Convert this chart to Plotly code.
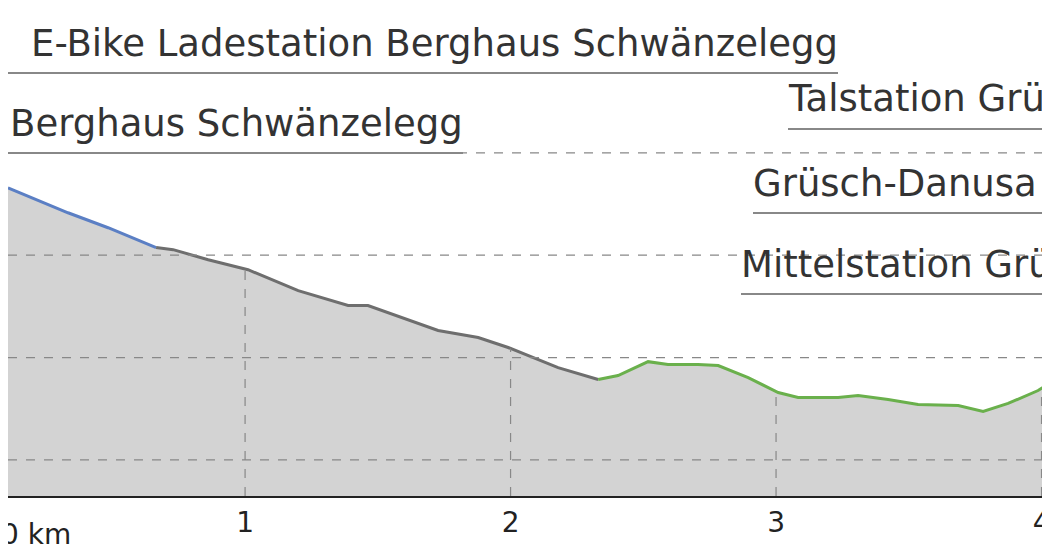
import numpy as np
import plotly.graph_objects as go

km = [0.107,0.333,0.484,0.665,0.729,0.861,1.011,1.200,1.388,1.463,1.727,1.878,1.991,2.179,2.330,
      2.405,2.518,2.593,2.706,2.782,2.895,3.008,3.083,3.234,3.309,3.422,3.535,3.686,3.780,3.874,3.987,4.062]
elev = [1332.9,1320.7,1313.4,1303.7,1302.7,1297.8,1292.9,1282.7,1275.4,1275.4,1263.2,1259.8,1254.9,1245.1,1239.3,
        1241.2,1248.0,1246.6,1246.6,1246.1,1240.2,1232.9,1230.5,1230.5,1231.5,1229.5,1227.1,1226.6,1223.7,1227.6,1233.9,1240.2]
blue_end = 3
gray_end = 14
grid_elev = [1200, 1250, 1300, 1350]
km_ticks = [1, 2, 3, 4]
YMIN, YMAX = 1182.4, 1420.7
XMIN, XMAX = 0.107, 4.062

fig = go.Figure()
fig.add_trace(go.Scatter(x=km+km[::-1], y=elev+[YMIN]*len(km), fill='toself', fillcolor='#d3d3d3',
                         mode='none', hoverinfo='skip'))
for g in grid_elev:
    fig.add_shape(type='line', xref='paper', x0=0, x1=1, y0=g, y1=g,
                  line=dict(color='#888', width=1.2, dash='dash'))
for k in km_ticks:
    fig.add_shape(type='line', x0=k, x1=k, y0=YMIN, y1=float(np.interp(k, km, elev)),
                  line=dict(color='#888', width=1.2, dash='dash'))
segs = [(0, blue_end, '#5b7fc4'), (blue_end, gray_end, '#6e6e6e'), (gray_end, len(km)-1, '#6ab04c')]
for a, b, c in segs:
    fig.add_trace(go.Scatter(x=km[a:b+1], y=elev[a:b+1], mode='lines', line=dict(color=c, width=3), hoverinfo='skip'))

labels = [
    ("E-Bike Ladestation Berghaus Schwänzelegg", 832, 62, 'right', 0, 830, 65),
    ("Berghaus Schwänzelegg", 457, 142, 'right', 0, 455, 145),
    ("Talstation Grüsch", 778, 117, 'left', 780, 1050, 121),
    ("Grüsch-Danusa", 743, 202, 'left', 745, 1050, 205),
    ("Mittelstation Grüsch", 731, 283, 'left', 733, 1050, 286),
]
H = 488
for t, x, yb, anc, l0, l1, ly in labels:
    fig.add_annotation(text=t, xref='paper', yref='paper', x=x/1050, y=(H-yb+3)/H, xanchor=anc, yanchor='bottom',
                       showarrow=False, font=dict(family='DejaVu Sans', size=37, color='#333'))
    fig.add_shape(type='line', xref='paper', yref='paper', x0=l0/1050, x1=l1/1050,
                  y0=(H-ly)/H, y1=(H-ly)/H, line=dict(color='#888', width=2))
fig.add_annotation(text="0 km", xref='paper', yref='paper', x=65/1050, y=-0.04, xanchor='right', yanchor='top',
                   showarrow=False, font=dict(family='DejaVu Sans', size=28, color='#222'))

fig.update_layout(width=1050, height=560, margin=dict(l=0, r=0, t=0, b=72, autoexpand=False), showlegend=False,
                  plot_bgcolor='white', paper_bgcolor='white')
fig.update_xaxes(range=[XMIN, XMAX], tickvals=km_ticks, ticktext=[str(k) for k in km_ticks], showgrid=False,
                 zeroline=False, showline=True, linecolor='#222', linewidth=2, ticks='',
                 tickfont=dict(family='DejaVu Sans', size=28, color='#222'))
fig.update_yaxes(range=[YMIN, YMAX], visible=False)
fig.write_html("out.html")
